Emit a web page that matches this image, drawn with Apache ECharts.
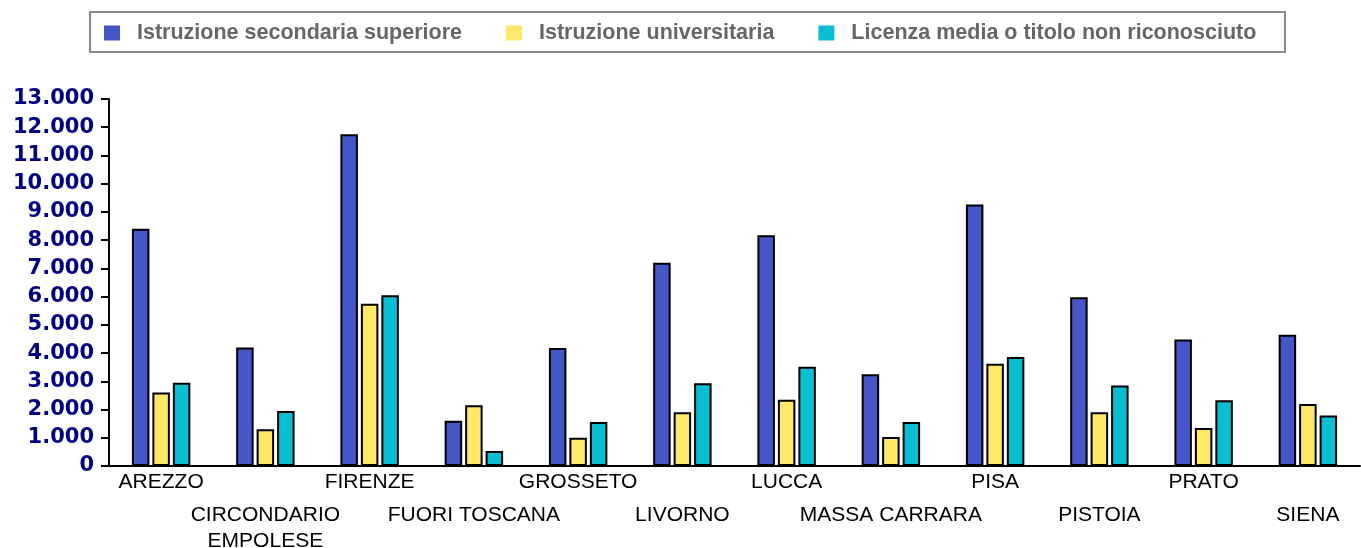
<!DOCTYPE html>
<html>
<head>
<meta charset="utf-8">
<script src="https://cdn.jsdelivr.net/npm/echarts@6/dist/echarts.min.js"></script>
<style>
  html, body { margin: 0; padding: 0; background: #fff; }
  #chart { width: 1361px; height: 548px; }
</style>
</head>
<body>
<div id="chart"></div>
<script>
const categories = ['AREZZO', 'CIRCONDARIO\nEMPOLESE', 'FIRENZE', 'FUORI TOSCANA', 'GROSSETO', 'LIVORNO',
  'LUCCA', 'MASSA CARRARA', 'PISA', 'PISTOIA', 'PRATO', 'SIENA']
const seriesNames = ['Istruzione secondaria superiore', 'Istruzione universitaria', 'Licenza media o titolo non riconosciuto']
const secondaria = [8400, 4200, 11750, 1600, 4180, 7200, 8170, 3250, 9260, 5980, 4480, 4650]
const universitaria = [2600, 1300, 5750, 2150, 1000, 1900, 2350, 1030, 3620, 1900, 1350, 2200]
const licenza = [2950, 1950, 6050, 530, 1560, 2930, 3520, 1560, 3860, 2850, 2330, 1790]
const colors = ['#4655c8', '#ffe866', '#08bed2']

const chart = echarts.init(document.getElementById('chart'))

function bar(name, data) {
  return {
    name: name,
    type: 'bar',
    data: data,
    barWidth: 17.5,
    barGap: '17%',
    itemStyle: { borderColor: '#000', borderWidth: 2 }
  }
}

const option = {
  animation: false,
  color: colors,
  graphic: [{
    type: 'rect',
    shape: { x: 90, y: 12, width: 1195, height: 40 },
    style: { fill: 'none', stroke: '#8a8a8a', lineWidth: 2 }
  }],
  legend: {
    left: 99,
    top: 17,
    icon: 'rect',
    itemWidth: 16,
    itemHeight: 15,
    itemGap: 44,
    data: seriesNames,
    itemStyle: { borderWidth: 0 },
    textStyle: {
      color: '#666',
      fontSize: 21.5,
      fontWeight: 'bold',
      fontFamily: 'Liberation Sans, Arial',
      padding: [0, 0, 0, 12]
    }
  },
  grid: { left: 109, right: 1, top: 99, bottom: 82, containLabel: false, outerBoundsMode: 'none' },
  xAxis: {
    type: 'category',
    data: categories,
    axisLine: { lineStyle: { color: '#000', width: 2 } },
    axisTick: { show: false },
    axisLabel: {
      interval: 0,
      color: '#000',
      fontSize: 21,
      fontFamily: 'Liberation Sans, Arial',
      lineHeight: 26,
      margin: 3,
      // alternate labels drop to a second row
      formatter: function (v, i) { return i % 2 === 1 ? '{gap|}\n' + v : v },
      rich: { gap: { lineHeight: 33 } }
    }
  },
  yAxis: {
    type: 'value',
    min: 0,
    max: 13000,
    interval: 1000,
    axisLine: { show: true, lineStyle: { color: '#000', width: 2 } },
    axisTick: { show: true, length: 8, lineStyle: { color: '#000', width: 2 } },
    splitLine: { show: false },
    axisLabel: {
      color: '#000080',
      fontSize: 21,
      fontWeight: 'bold',
      fontFamily: 'DejaVu Sans, Verdana',
      margin: 15,
      formatter: function (v) { return v.toString().replace(/\B(?=(\d{3})+(?!\d))/g, '.') }
    }
  },
  series: [
    bar(seriesNames[0], secondaria),
    bar(seriesNames[1], universitaria),
    bar(seriesNames[2], licenza)
  ]
}

chart.setOption(option)
</script>
</body>
</html>
